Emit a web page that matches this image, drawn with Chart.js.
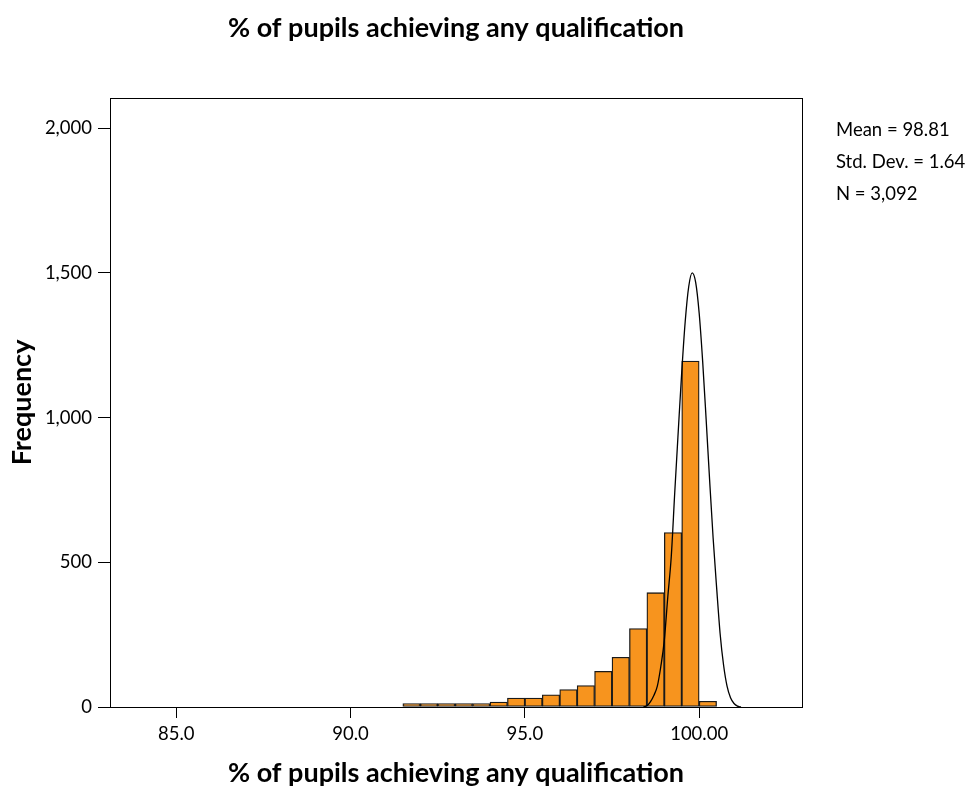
<!DOCTYPE html>
<html>
<head>
<meta charset="utf-8">
<script src="https://cdn.jsdelivr.net/npm/chart.js@4.4.1/dist/chart.umd.min.js"></script>
<style>
  html, body { margin: 0; padding: 0; background: #fff; }
  #wrap { position: relative; width: 969px; height: 788px; }
  #stats { position: absolute; left: 836px; top: 113px; font-family: Lato, "Open Sans", sans-serif; font-size: 18.5px; line-height: 32px; color: #000; white-space: nowrap; }
</style>
</head>
<body>
<div id="wrap">
  <canvas id="c" width="969" height="788"></canvas>
  <div id="stats"><div>Mean = 98.81</div><div>Std. Dev. = 1.64</div><div>N = 3,092</div></div>
</div>
<script>
// Histogram bins (centres of 0.5-wide bins) and frequencies
const binCenters = [91.75, 92.25, 92.75, 93.25, 93.75, 94.25, 94.75, 95.25, 95.75,
                    96.25, 96.75, 97.25, 97.75, 98.25, 98.75, 99.25, 99.75, 100.25];
const frequencies = [12, 12, 12, 12, 12, 17, 31, 31, 42,
                     60, 74, 123, 172, 271, 395, 603, 1195, 20];

// Overlaid curve, points
const curveX = [98.4, 98.5, 98.6, 98.7, 98.8, 98.9, 99.0, 99.1, 99.2, 99.3, 99.4, 99.5,
                99.6, 99.7, 99.8, 99.9, 100.0, 100.1, 100.2, 100.3, 100.4, 100.5, 100.6,
                100.7, 100.8, 100.9, 101.0, 101.1, 101.2];
const curveY = [0, 4, 18, 40, 72, 140, 230, 380, 520, 742, 952, 1157,
                1332, 1452, 1500, 1467, 1361, 1195, 994, 784, 585, 414, 255,
                145, 72, 32, 12, 3, 0];

// Axis ticks
const xTickValues = [85, 90, 95, 100];
const xTickLabels = ['85.0', '90.0', '95.0', '100.00'];
const yTickValues = [0, 500, 1000, 1500, 2000];
const yTickLabels = ['0', '500', '1,000', '1,500', '2,000'];

const titleText = '% of pupils achieving any qualification';
const xTitleText = '% of pupils achieving any qualification';
const yTitleText = 'Frequency';

const barData = binCenters.map((x, i) => ({ x: x, y: frequencies[i] }));
const curveData = curveX.map((x, i) => ({ x: x, y: curveY[i] }));

const frame = {
  id: 'frame',
  afterDatasetsDraw(chart) {
    const a = chart.chartArea, ctx = chart.ctx;
    ctx.save();
    ctx.strokeStyle = '#000';
    ctx.lineWidth = 1;
    ctx.strokeRect(Math.round(a.left) + 0.5, Math.round(a.top) + 0.5,
                   Math.round(a.right - a.left), Math.round(a.bottom - a.top));
    ctx.restore();
  }
};

new Chart(document.getElementById('c'), {
  type: 'bar',
  data: {
    datasets: [
      {
        type: 'line',
        data: curveData,
        borderColor: '#000',
        borderWidth: 1.3,
        pointRadius: 0,
        tension: 0.4,
        cubicInterpolationMode: 'monotone',
        fill: false,
        order: 0
      },
      {
        type: 'bar',
        data: barData,
        backgroundColor: '#F7941E',
        borderColor: '#1a1a1a',
        borderWidth: 1.3,
        borderSkipped: false,
        barPercentage: 1,
        categoryPercentage: 1,
        order: 1
      }
    ]
  },
  options: {
    responsive: false,
    animation: false,
    devicePixelRatio: 1,
    layout: { padding: { left: 0, right: 167, top: 0, bottom: 0 } },
    plugins: {
      legend: { display: false },
      tooltip: { enabled: false },
      title: {
        display: true,
        text: titleText,
        fullSize: false,
        color: '#000',
        font: { family: 'Lato', size: 27, weight: 'bold', lineHeight: 1.2 },
        padding: { top: 12, bottom: 53.6 }
      }
    },
    scales: {
      x: {
        type: 'linear',
        min: 83.1,
        max: 102.95,
        offset: false,
        afterBuildTicks(scale) { scale.ticks = xTickValues.map(v => ({ value: v })); },
        afterFit(scale) { scale.height = 81; },
        ticks: {
          color: '#000',
          font: { family: 'Lato', size: 18.5 },
          padding: 5,
          maxRotation: 0,
          autoSkip: false,
          callback(value) { const i = xTickValues.indexOf(value); return i >= 0 ? xTickLabels[i] : ''; }
        },
        grid: { offset: false, drawOnChartArea: false, drawTicks: true, tickLength: 11, color: '#000', lineWidth: 1 },
        border: { display: true, color: '#000', width: 1 },
        title: {
          display: true,
          text: xTitleText,
          color: '#000',
          font: { family: 'Lato', size: 27, weight: 'bold', lineHeight: 1.1 },
          padding: { top: 0, bottom: 0 }
        }
      },
      y: {
        type: 'linear',
        min: 0,
        max: 2104,
        afterBuildTicks(scale) { scale.ticks = yTickValues.map(v => ({ value: v })); },
        afterFit(scale) { scale.width = 110; },
        ticks: {
          color: '#000',
          font: { family: 'Lato', size: 18.5 },
          padding: 6,
          autoSkip: false,
          callback(value) { const i = yTickValues.indexOf(value); return i >= 0 ? yTickLabels[i] : ''; }
        },
        grid: { drawOnChartArea: false, drawTicks: true, tickLength: 12, color: '#000', lineWidth: 1 },
        border: { display: true, color: '#000', width: 1 },
        title: {
          display: true,
          text: yTitleText,
          color: '#000',
          font: { family: 'Lato', size: 27, weight: 'bold', lineHeight: 1.2 },
          padding: { top: 6, bottom: 0 }
        }
      }
    }
  },
  plugins: [frame]
});
</script>
</body>
</html>
